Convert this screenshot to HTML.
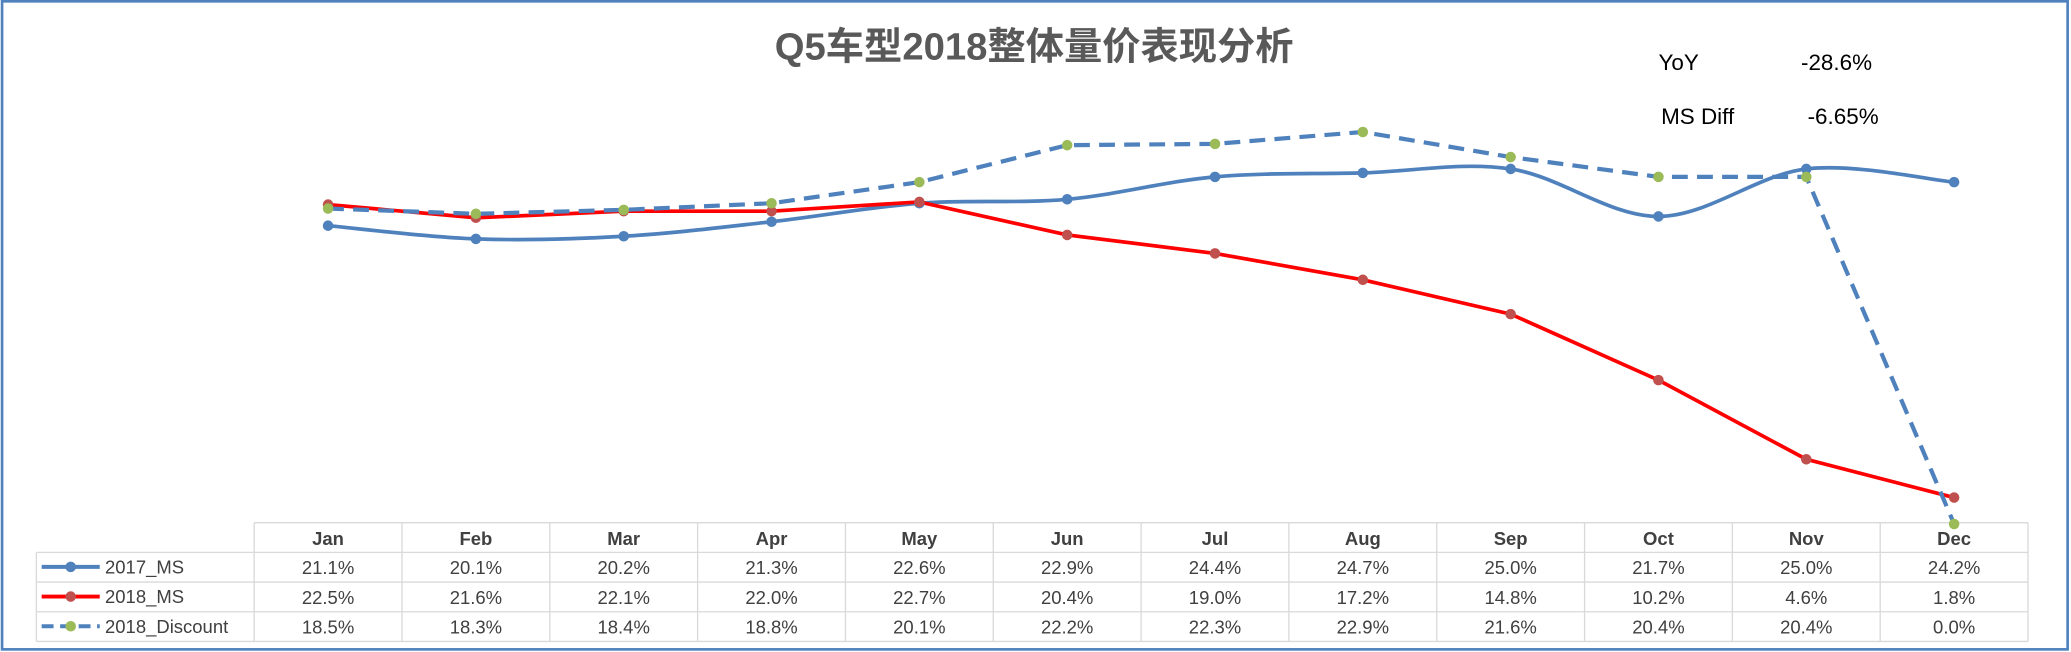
<!DOCTYPE html>
<html><head><meta charset="utf-8"><style>
html,body{margin:0;padding:0;background:#fff}
svg{display:block}
text{font-family:"Liberation Sans","Noto Sans CJK SC",sans-serif}
</style></head><body>
<svg id="s" width="2071" height="652" viewBox="0 0 1568 494" xmlns="http://www.w3.org/2000/svg">
<rect x="1" y="1" width="1565" height="491" fill="#fff" stroke="#4f81bd" stroke-width="2"/>
<text x="783" y="45" text-anchor="middle" font-size="29" font-weight="bold" fill="#595959" style="font-family:'Liberation Sans','Noto Sans CJK SC',sans-serif">Q5车型2018整体量价表现分析</text>
<g font-size="17" fill="#000">
<text x="1256" y="53">YoY</text><text x="1364" y="53">-28.6%</text>
<text x="1258" y="94">MS Diff</text><text x="1369" y="94">-6.65%</text>
</g>
<g id="tbl" stroke="#d9d9d9" stroke-width="1" fill="none"></g>
<g id="lines"></g>
<g id="txt" font-size="14" fill="#404040" text-anchor="middle"></g>
</svg>
<script>
var ns="http://www.w3.org/2000/svg";
function el(p,t,a,tx){var e=document.createElementNS(ns,t);for(var k in a)e.setAttribute(k,a[k]);if(tx!=null)e.textContent=tx;document.getElementById(p).appendChild(e);return e;}
var L=192,W=112,R=L+12*W;
var rows=[396,418.5,441,463.5,486];
el('tbl','line',{x1:L,y1:rows[0],x2:R,y2:rows[0]});
for(var i=1;i<5;i++)el('tbl','line',{x1:27,y1:rows[i],x2:R,y2:rows[i]});
el('tbl','line',{x1:27,y1:rows[1],x2:27,y2:rows[4]});
for(var c=0;c<=12;c++)el('tbl','line',{x1:L+c*W,y1:rows[0],x2:L+c*W,y2:rows[4]});
var months=["Jan","Feb","Mar","Apr","May","Jun","Jul","Aug","Sep","Oct","Nov","Dec"];
var vals=[
["21.1%","20.1%","20.2%","21.3%","22.6%","22.9%","24.4%","24.7%","25.0%","21.7%","25.0%","24.2%"],
["22.5%","21.6%","22.1%","22.0%","22.7%","20.4%","19.0%","17.2%","14.8%","10.2%","4.6%","1.8%"],
["18.5%","18.3%","18.4%","18.8%","20.1%","22.2%","22.3%","22.9%","21.6%","20.4%","20.4%","0.0%"]];
for(var c=0;c<12;c++){
 var cx=L+W/2+c*W;
 el('txt','text',{x:cx,y:413,'font-weight':'bold'},months[c]);
 for(var r=0;r<3;r++)el('txt','text',{x:cx,y:rows[r+1]+16.5},vals[r][c]);
}
var names=["2017_MS","2018_MS","2018_Discount"];
var lc=["#4f81bd","#ff0000","#4f81bd"],mc=["#4f81bd","#c0504d","#9bbb59"];
for(var r=0;r<3;r++){
 var y=rows[r+1]+11;
 var a={x1:31,y1:y,x2:75,y2:y,stroke:lc[r],'stroke-width':3};
 if(r==2)a['stroke-dasharray']='9,5';
 el('lines','line',a);
 el('lines','circle',{cx:53,cy:y,r:4,fill:mc[r]});
 el('txt','text',{x:79,y:y+5,'text-anchor':'start'},names[r]);
}
var d17=[171,181,179,168,154,151,134,131,128,164,128,138];
var d18=[155,165,160,160,153,178,192,212,238,288,348,377];
var dd=[158,162,159,154,138,110,109,100,119,134,134,397];
function xs(i){return L+W/2+i*W;}
function smooth(d){var p=d.map(function(y,i){return[xs(i),y]});var s="M"+p[0][0]+","+p[0][1];
 for(var i=0;i<p.length-1;i++){var p0=p[i-1]||p[i],p1=p[i],p2=p[i+1],p3=p[i+2]||p2;
 var t=1/6;s+=" C"+(p1[0]+(p2[0]-p0[0])*t)+","+(p1[1]+(p2[1]-p0[1])*t)+" "+(p2[0]-(p3[0]-p1[0])*t)+","+(p2[1]-(p3[1]-p1[1])*t)+" "+p2[0]+","+p2[1];}return s;}
function straight(d){return d.map(function(y,i){return(i?"L":"M")+xs(i)+","+y}).join(" ");}
el('lines','path',{d:smooth(d17),fill:'none',stroke:'#4f81bd','stroke-width':2.8});
el('lines','path',{d:straight(d18),fill:'none',stroke:'#ff0000','stroke-width':2.8});
el('lines','path',{d:straight(dd),fill:'none',stroke:'#4f81bd','stroke-width':3.2,'stroke-dasharray':'12,7'});
[[d17,'#4f81bd'],[d18,'#c0504d'],[dd,'#9bbb59']].forEach(function(s){s[0].forEach(function(y,i){el('lines','circle',{cx:xs(i),cy:y,r:4,fill:s[1]});});});
</script>
</body></html>
